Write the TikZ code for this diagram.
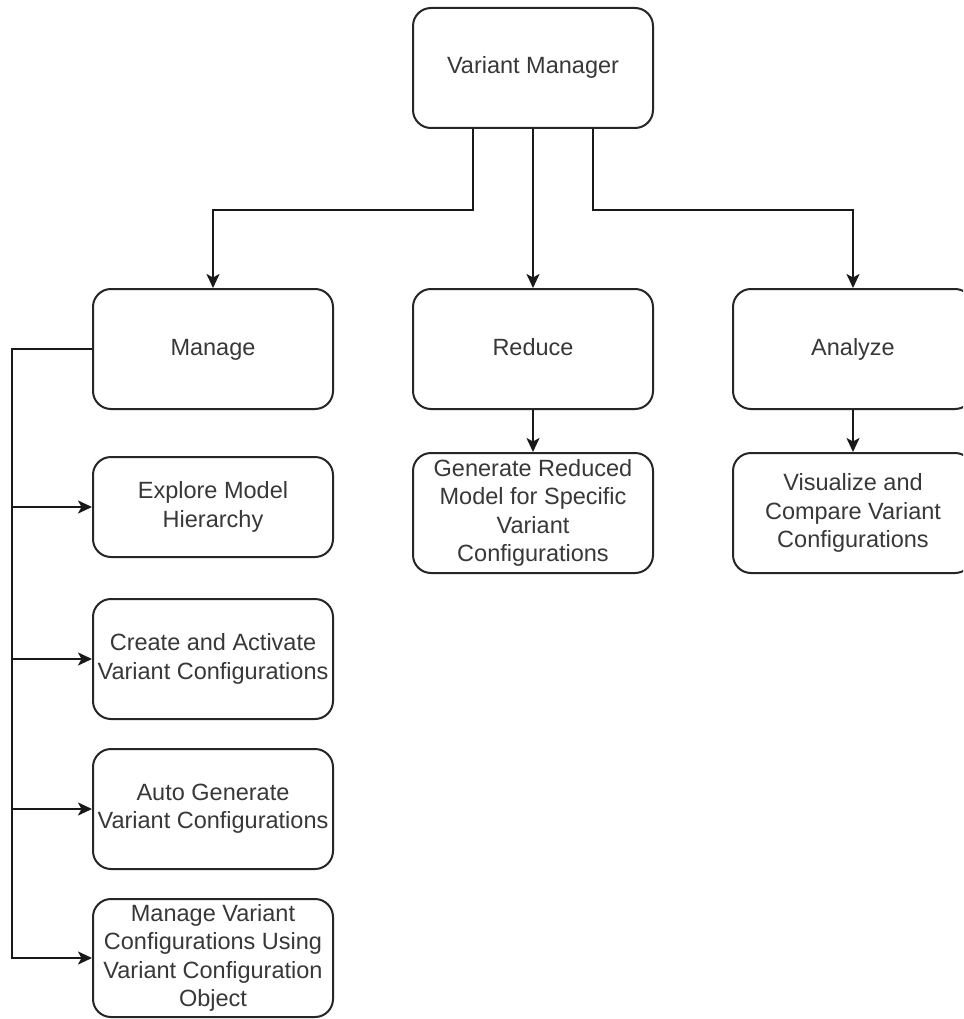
\documentclass[tikz,border=0pt]{standalone}
\usepackage{fontspec}
\setmainfont{Liberation Sans}
\usetikzlibrary{arrows.meta}
\begin{document}
\begin{tikzpicture}[x=1pt,y=-1pt,
  box/.style={draw=black!85, line width=2pt, rounded corners=18pt, fill=white,
    minimum width=240pt, minimum height=120pt, align=center, inner sep=2pt,
    text=black!78, font=\fontsize{23.5}{28.2}\selectfont},
  oneline/.style={text height=17pt, text depth=5pt},
  conn/.style={draw=black!90, line width=2pt, -{Stealth[length=14pt,width=13pt,inset=3.5pt]}}]
\useasboundingbox (0,0) rectangle (963,1019);
\clip (0,0) rectangle (963,1019);
\fill[white] (0,0) rectangle (963,1019);
\node[box, oneline] (vm) at (533,68) {Variant Manager};
\node[box, oneline] (manage) at (213,349) {Manage};
\node[box, oneline] (reduce) at (533,349) {Reduce};
\node[box, oneline] (analyze) at (853,349) {Analyze};
\node[box, minimum height=100pt] (explore) at (213,507) {Explore Model\\Hierarchy};
\node[box] (create) at (213,659) {Create and Activate\\Variant Configurations};
\node[box] (auto) at (213,809) {Auto Generate\\Variant Configurations};
\node[box, minimum height=118pt] (mvc) at (213,958) {Manage Variant\\Configurations Using\\Variant Configuration\\Object};
\node[box] (gen) at (533,513) {Generate Reduced\\Model for Specific\\Variant\\Configurations};
\node[box] (vis) at (853,513) {Visualize and\\Compare Variant\\Configurations};
\coordinate (bus) at (12,349);
\draw[conn] ([xshift=-60pt]vm.south) -- ++(0,81) -| (manage.north);
\draw[conn] (vm.south) -- (reduce.north);
\draw[conn] ([xshift=60pt]vm.south) -- ++(0,81) -| (analyze.north);
\draw[conn] (reduce.south) -- (gen.north);
\draw[conn] (analyze.south) -- (vis.north);
\draw[conn] (manage.west) -- (bus) |- (explore.west);
\draw[conn] (manage.west) -- (bus) |- (create.west);
\draw[conn] (manage.west) -- (bus) |- (auto.west);
\draw[conn] (manage.west) -- (bus) |- (mvc.west);
\end{tikzpicture}
\end{document}
